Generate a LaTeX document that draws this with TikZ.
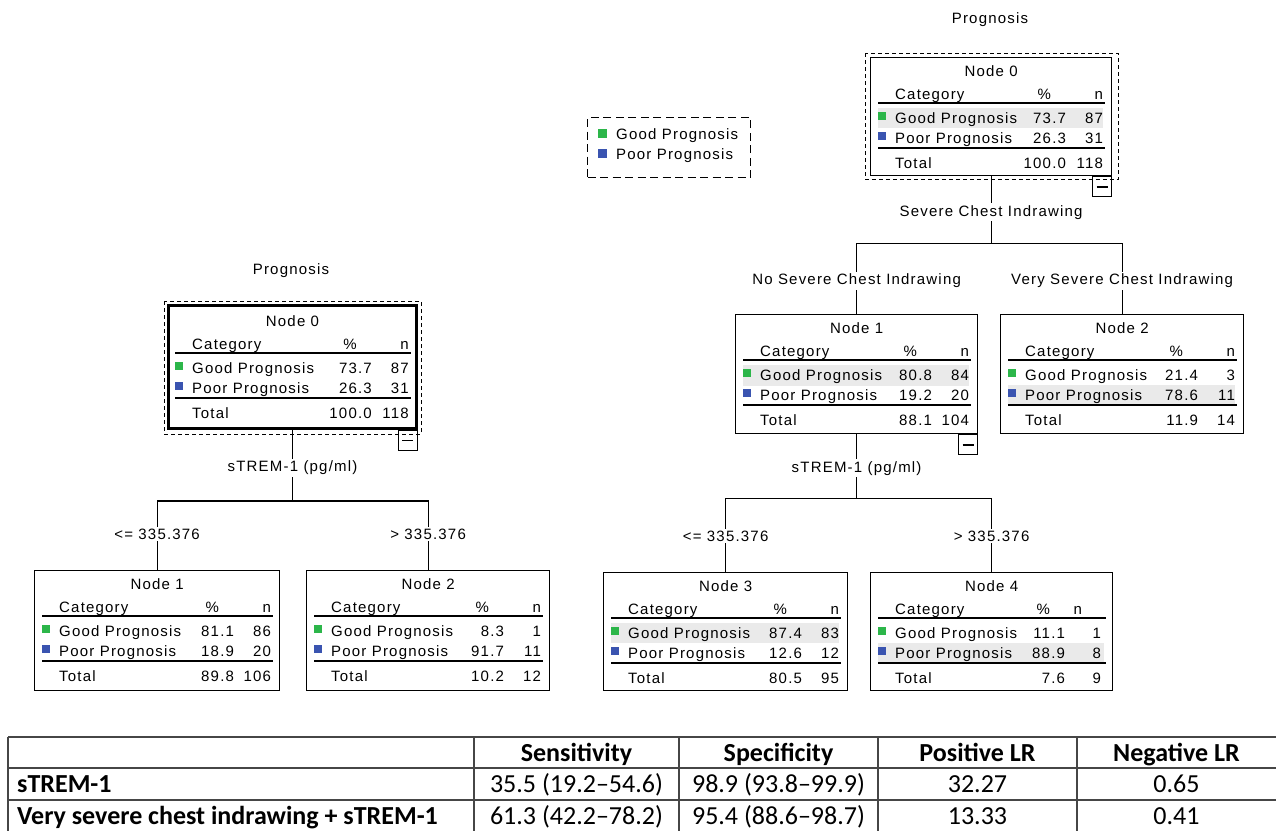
\documentclass[tikz,border=0pt]{standalone}
\usepackage{fontspec}
\setmainfont{Liberation Sans}
\newfontfamily\tf[LetterSpace=8]{Liberation Sans}
\newfontfamily\tabf{Carlito}
\usetikzlibrary{calc}
\definecolor{goodc}{RGB}{44,182,74}
\definecolor{poorc}{RGB}{58,84,176}
\definecolor{hlc}{RGB}{234,234,234}
\definecolor{tabline}{RGB}{70,70,70}
\tikzset{
  ttext/.style={font=\tf\fontsize{15}{17}\selectfont, inner sep=0pt, text=black},
  tbox/.style={draw=black, line width=1.2pt, rectangle, inner sep=0pt},
  rootbox/.style={draw=black, line width=3pt, rectangle, inner sep=0pt},
  minbox/.style={draw=black, line width=1.2pt, rectangle, inner sep=0pt, minimum width=19pt, minimum height=20pt, anchor=north east},
  dashbox/.style={draw=black, line width=1pt, dash pattern=on 4pt off 3pt},
  legbox/.style={draw=black, line width=1.2pt, dash pattern=on 8pt off 4.5pt, rectangle, inner sep=0pt},
  conn/.style={draw=black, line width=1.2pt},
  rule/.style={draw=black, line width=1.2pt},
  clabel/.style={ttext, fill=white, inner sep=2pt},
  sq/.style={inner sep=0pt, minimum size=8pt, rectangle},
  tabl/.style={draw=tabline, line width=1.5pt},
  tabtxt/.style={font=\tabf\fontsize{26}{30}\selectfont, inner sep=0pt, anchor=base},
  tabb/.style={font=\tabf\bfseries\fontsize{26}{30}\selectfont, inner sep=0pt, anchor=base},
}
\newcommand\pcx{-46}
\newcommand\nvx{-9}
\newcommand\phx{-68}
\newcommand\nhx{-9}
\newcommand\thl[3]{\fill[hlc] ($(#1.north west)+(8,#2)$) rectangle ($(#1.north east)+(-9,#3)$);}
\newcommand\tcontent[9]{%
  \coordinate (#1-nw) at ($(#1.north west)+(0,#2)$);
  \coordinate (#1-ne) at ($(#1.north east)+(0,#2)$);
  \coordinate (#1-n) at ($(#1.north)+(0,#2)$);
  \node[ttext, anchor=base] (#1-title) at ($(#1-n)+(0,19.5)$) {#3};
  \node[ttext, anchor=base west] (#1-cat) at ($(#1-nw)+(25,42.5)$) {Category};
  \node[ttext, anchor=base] (#1-pct) at ($(#1-ne)+(\phx,42.5)$) {\%};
  \node[ttext, anchor=base east] (#1-nh) at ($(#1-ne)+(\nhx,42.5)$) {n};
  \draw[rule] ($(#1-nw)+(8,46)$) -- ($(#1-ne)+(-7,46)$);
  \node[sq, fill=goodc] (#1-gsq) at ($(#1-nw)+(12,59)$) {};
  \node[ttext, anchor=base west] (#1-g) at ($(#1-nw)+(25,66.5)$) {Good Prognosis};
  \node[ttext, anchor=base east] (#1-gp) at ($(#1-ne)+(\pcx,66.5)$) {#4};
  \node[ttext, anchor=base east] (#1-gn) at ($(#1-ne)+(\nvx,66.5)$) {#5};
  \node[sq, fill=poorc] (#1-psq) at ($(#1-nw)+(12,79)$) {};
  \node[ttext, anchor=base west] (#1-p) at ($(#1-nw)+(25,86.5)$) {Poor Prognosis};
  \node[ttext, anchor=base east] (#1-pp) at ($(#1-ne)+(\pcx,86.5)$) {#6};
  \node[ttext, anchor=base east] (#1-pn) at ($(#1-ne)+(\nvx,86.5)$) {#7};
  \draw[rule] ($(#1-nw)+(8,91)$) -- ($(#1-ne)+(-7,91)$);
  \node[ttext, anchor=base west] (#1-t) at ($(#1-nw)+(25,111.5)$) {Total};
  \node[ttext, anchor=base east] (#1-tp) at ($(#1-ne)+(\pcx,111.5)$) {#8};
  \node[ttext, anchor=base east] (#1-tn) at ($(#1-ne)+(\nvx,111.5)$) {#9};
}
\newcommand\tminus[2]{%
  \node[minbox] (#1) at (#2) {};
  \draw[line width=1.4pt] ($(#1.center)+(-5.5,0)$) -- ($(#1.center)+(5.5,0)$);
}
\begin{document}
\begin{tikzpicture}[x=1pt,y=-1pt]
\useasboundingbox (0,0) rectangle (1276,831);

% ---------------- left tree ----------------
\node[ttext] (lprog) at (291,271) {Prognosis};
\node[rootbox, minimum width=248pt, minimum height=123pt, anchor=north west] (L0) at (167,304) {};
\draw[dashbox] ($(L0.north west)+(-3,-3)$) rectangle ($(L0.south east)+(3,4)$);
\tcontent{L0}{3}{Node 0}{73.7}{87}{26.3}{31}{100.0}{118}
\tminus{L0m}{L0.south east}

\node[tbox, minimum width=245pt, minimum height=120pt, anchor=north west] (L1) at (34,570) {};
\tcontent{L1}{0}{Node 1}{81.1}{86}{18.9}{20}{89.8}{106}
\node[tbox, minimum width=243pt, minimum height=120pt, anchor=north west] (L2) at (306,570) {};
\tcontent{L2}{0}{Node 2}{8.3}{1}{91.7}{11}{10.2}{12}

\coordinate (Lbar) at ($(L0.south)+(0,71)$);
\draw[conn] (L0.south) -- (Lbar);
\draw[conn] (L1.north) |- (Lbar) -| (L2.north);
\node[clabel] (Lsplit) at ($(L0.south)+(0,38)$) {sTREM-1 (pg/ml)};
\node[clabel] (L1lab) at ($(L1.north)+(0,-36)$) {<= 335.376};
\node[clabel] (L2lab) at ($(L2.north)+(0,-36)$) {> 335.376};

% ---------------- legend ----------------
\node[legbox, minimum width=163pt, minimum height=60pt, anchor=north west] (leg) at (587,117) {};
\node[sq, fill=goodc, minimum size=9pt] (leggsq) at ($(leg.north west)+(15.5,16)$) {};
\node[ttext, anchor=base west] (legg) at ($(leg.north west)+(29,22.5)$) {Good Prognosis};
\node[sq, fill=poorc, minimum size=9pt] (legpsq) at ($(leg.north west)+(15.5,36)$) {};
\node[ttext, anchor=base west] (legp) at ($(leg.north west)+(29,42.5)$) {Poor Prognosis};

% ---------------- right tree ----------------
\node[ttext] (rprog) at (990,20) {Prognosis};
\node[tbox, minimum width=241pt, minimum height=118pt, anchor=north west] (R0) at (870,57) {};
\draw[dashbox] ($(R0.north west)+(-5,-4)$) rectangle ($(R0.south east)+(6,3)$);
\thl{R0}{51}{71}
\tcontent{R0}{0}{Node 0}{73.7}{87}{26.3}{31}{100.0}{118}
\tminus{R0m}{R0.south east}

\node[tbox, minimum width=242pt, minimum height=119pt, anchor=north west] (R1) at (735,314) {};
\thl{R1}{51}{72}
\tcontent{R1}{0}{Node 1}{80.8}{84}{19.2}{20}{88.1}{104}
\tminus{R1m}{R1.south east}

\node[tbox, minimum width=243pt, minimum height=119pt, anchor=north west] (R2) at (1000,314) {};
\thl{R2}{71}{91}
\tcontent{R2}{0}{Node 2}{21.4}{3}{78.6}{11}{11.9}{14}

\node[tbox, minimum width=244pt, minimum height=118pt, anchor=north west] (R3) at (603,572) {};
\thl{R3}{51}{71}
\tcontent{R3}{0}{Node 3}{87.4}{83}{12.6}{12}{80.5}{95}

\node[tbox, minimum width=242pt, minimum height=118pt, anchor=north west] (R4) at (870,572) {};
\thl{R4}{71}{91}
\renewcommand\pcx{-48}\renewcommand\nvx{-12}\renewcommand\phx{-70}\renewcommand\nhx{-31}
\tcontent{R4}{0}{Node 4}{11.1}{1}{88.9}{8}{7.6}{9}

\coordinate (Rbar) at ($(R0.south)+(0,67)$);
\draw[conn] (R0.south) -- (Rbar);
\draw[conn] (R1.north) |- (Rbar) -| (R2.north);
\node[clabel] (Rsplit) at ($(R0.south)+(0,36)$) {Severe Chest Indrawing};
\node[clabel] (R1lab) at ($(R1.north)+(0,-33)$) {No Severe Chest Indrawing};
\node[clabel] (R2lab) at ($(R2.north)+(0,-33)$) {Very Severe Chest Indrawing};

\coordinate (R1bar) at ($(R1.south)+(0,64)$);
\draw[conn] (R1.south) -- (R1bar);
\draw[conn] (R3.north) |- (R1bar) -| (R4.north);
\node[clabel] (R1split) at ($(R1.south)+(0,34)$) {sTREM-1 (pg/ml)};
\node[clabel] (R3lab) at ($(R3.north)+(0,-36)$) {<= 335.376};
\node[clabel] (R4lab) at ($(R4.north)+(0,-36)$) {> 335.376};

% ---------------- table ----------------
\draw[tabl] (8,737) -- (1276,737);
\draw[tabl] (8,768) -- (1276,768);
\draw[tabl] (8,800) -- (1276,800);
\foreach \cx in {8,474,679,878,1077} {\draw[tabl] (\cx,737) -- (\cx,831);}
\node[tabb] (th1) at (576.5,761) {Sensitivity};
\node[tabb] (th2) at (778.5,761) {Specificity};
\node[tabb] (th3) at (977.5,761) {Positive LR};
\node[tabb] (th4) at (1176.5,761) {Negative LR};
\node[tabb, anchor=base west] (r1) at (17,792.5) {sTREM-1};
\node[tabtxt] (r1a) at (576.5,792.5) {35.5 (19.2–54.6)};
\node[tabtxt] (r1b) at (778.5,792.5) {98.9 (93.8–99.9)};
\node[tabtxt] (r1c) at (977.5,792.5) {32.27};
\node[tabtxt] (r1d) at (1176.5,792.5) {0.65};
\node[tabb, anchor=base west] (r2) at (17,824) {Very severe chest indrawing + sTREM-1};
\node[tabtxt] (r2a) at (576.5,824) {61.3 (42.2–78.2)};
\node[tabtxt] (r2b) at (778.5,824) {95.4 (88.6–98.7)};
\node[tabtxt] (r2c) at (977.5,824) {13.33};
\node[tabtxt] (r2d) at (1176.5,824) {0.41};
\end{tikzpicture}
\end{document}
